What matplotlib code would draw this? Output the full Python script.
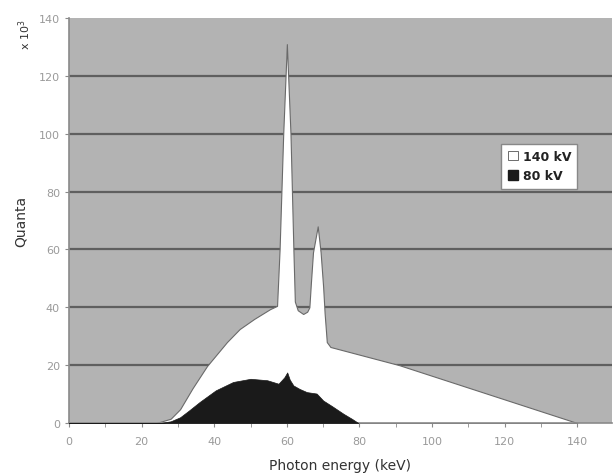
import numpy as np
import matplotlib.pyplot as plt
from matplotlib.patches import Patch

# 140 kV spectrum (x 10^3 quanta)
e140 = [0, 24, 28, 30.6, 34, 38, 43.5, 47, 51, 55.4, 57.3, 58, 58.5, 59, 60, 61, 61.4,
        61.8, 62.2, 63, 64.5, 65.6, 66.2, 66.6, 67.2, 68.5, 69.3, 70, 70.4, 71, 72, 91, 140]
q140 = [0, 0, 1.5, 4.8, 12, 19.7, 28, 32.5, 36, 39.4, 40.5, 60, 80, 100, 131, 100, 80,
        60, 42, 39, 37.7, 38.5, 40, 48, 59, 68, 59, 47, 38, 28, 26.3, 20, 0]

# 80 kV spectrum
e80 = [0, 25, 28, 30.6, 33, 36, 40.4, 45.2, 50, 54.6, 57.7, 59.3, 60.1, 60.8, 61.8,
       63.5, 65.5, 68.2, 70, 72.5, 75.6, 78, 79.7]
q80 = [0, 0, 0.6, 2, 4.3, 7.3, 11.3, 14.2, 15.3, 14.8, 13.6, 15.8, 17.5, 15, 13,
       11.8, 10.7, 10.2, 7.8, 5.8, 3.2, 1.4, 0]

fig = plt.figure(figsize=(6.14, 4.77), dpi=100)
ax = fig.add_axes([0.1124, 0.111, 0.884, 0.849])
ax.set_facecolor('#b3b3b3')

for y in range(20, 140, 20):
    ax.axhline(y, color='#5f5f5f', lw=1.6, zorder=1)

ax.fill_between(e140, q140, 0, facecolor='white', edgecolor='#6a6a6a', lw=0.8, zorder=2)
ax.fill_between(e80, q80, 0, facecolor='#1a1a1a', edgecolor='#1a1a1a', lw=0.5, zorder=3)

ax.set_xlim(0, 149.5)
ax.set_ylim(0, 140)
ax.set_xticks(np.arange(0, 141, 20))
ax.set_xticks(np.arange(0, 150, 10), minor=True)
ax.set_yticks(np.arange(0, 141, 20))

for s in ['top', 'right']:
    ax.spines[s].set_visible(False)
for s in ['left', 'bottom']:
    ax.spines[s].set_color('#8a8a8a')
    ax.spines[s].set_linewidth(1.2)

ax.tick_params(axis='both', colors='#8a8a8a', labelcolor='#9a9a9a', labelsize=8, length=3)
ax.tick_params(axis='x', which='minor', colors='#8a8a8a', length=3)
ax.tick_params(axis='x', pad=6)

ax.set_xlabel('Photon energy (keV)', fontsize=10, color='#333333', labelpad=9)
ax.set_ylabel('Quanta', fontsize=10, color='#333333', labelpad=8)
fig.text(0.04, 0.96, 'x 10$^3$', rotation=90, fontsize=8, color='#333333', va='top', ha='center')

handles = [Patch(facecolor='white', edgecolor='#555555', lw=0.6, label='140 kV'),
           Patch(facecolor='#1a1a1a', edgecolor='#1a1a1a', label='80 kV')]
leg = ax.legend(handles=handles, loc='upper left', bbox_to_anchor=(0.785, 0.705),
                fancybox=False, framealpha=1, edgecolor='#888888', fontsize=9,
                handlelength=0.8, handleheight=0.8, handletextpad=0.4,
                borderpad=0.5, labelspacing=0.5)
for t in leg.get_texts():
    t.set_fontweight('bold')
    t.set_color('#222222')

fig.savefig('out.png', dpi=100)
